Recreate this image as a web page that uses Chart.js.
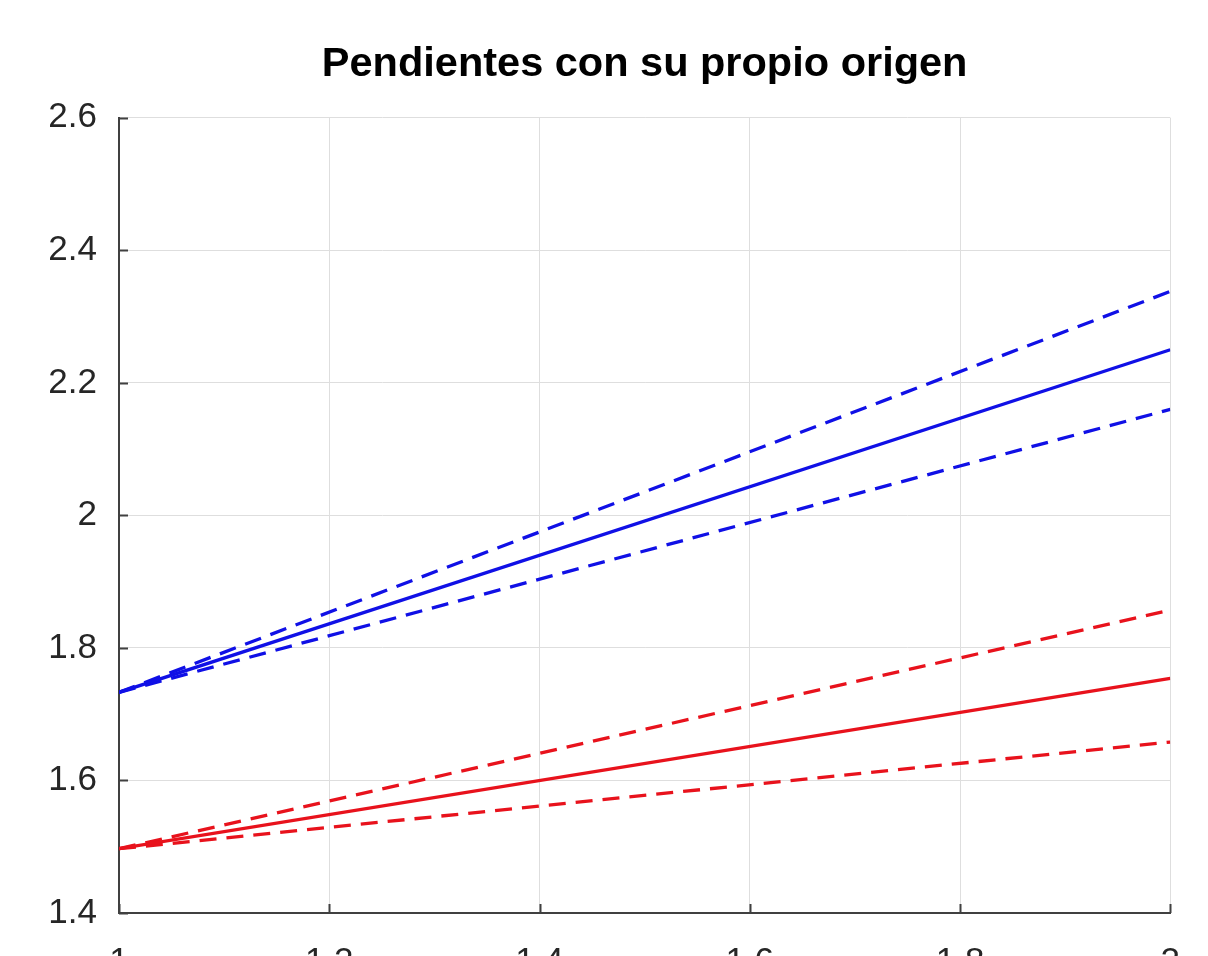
<!DOCTYPE html>
<html>
<head>
<meta charset="utf-8">
<script src="https://cdn.jsdelivr.net/npm/chart.js@4/dist/chart.umd.min.js"></script>
<style>
  html, body { margin: 0; padding: 0; background: #fff; overflow: hidden; }
  canvas { display: block; }
</style>
</head>
<body>
<canvas id="slopeChart" width="1208" height="995"></canvas>
<script>
// values
const xVals = [1, 2];
const blueMid = [1.733, 2.25];
const blueHigh = [1.733, 2.338];
const blueLow = [1.733, 2.16];
const redMid = [1.497, 1.754];
const redHigh = [1.497, 1.857];
const redLow = [1.497, 1.658];

const xTicks = [1, 1.2, 1.4, 1.6, 1.8, 2];
const xTickLabels = ['1', '1.2', '1.4', '1.6', '1.8', '2'];
const yTicks = [1.4, 1.6, 1.8, 2, 2.2, 2.4, 2.6];
const yTickLabels = ['1.4', '1.6', '1.8', '2', '2.2', '2.4', '2.6'];

const BLUE = '#1010e6';
const RED = '#e8121c';

function pts(ys) {
  return xVals.map((x, i) => ({ x: x, y: ys[i] }));
}

function line(ys, color, dashed) {
  return {
    data: pts(ys),
    borderColor: color,
    borderWidth: 3.3,
    borderDash: dashed ? [17, 10] : [],
    pointRadius: 0,
    tension: 0,
    fill: false
  };
}

// small inward tick marks on the left and bottom axes
const innerTicks = {
  id: 'innerTicks',
  afterDraw(chart) {
    const ctx = chart.ctx;
    const xs = chart.scales.x, ys = chart.scales.y;
    const a = chart.chartArea;
    ctx.save();
    ctx.strokeStyle = '#404040';
    ctx.lineWidth = 2;
    ctx.beginPath();
    yTicks.forEach(v => {
      const py = Math.round(ys.getPixelForValue(v)) + 0.5;
      ctx.moveTo(a.left, py);
      ctx.lineTo(a.left + 9, py);
    });
    xTicks.forEach(v => {
      const px = Math.round(xs.getPixelForValue(v)) + 0.5;
      ctx.moveTo(px, a.bottom);
      ctx.lineTo(px, a.bottom - 9);
    });
    ctx.stroke();
    ctx.restore();
  }
};

const ctx = document.getElementById('slopeChart').getContext('2d');
new Chart(ctx, {
  type: 'line',
  data: {
    datasets: [
      line(blueMid, BLUE, false),
      line(blueHigh, BLUE, true),
      line(blueLow, BLUE, true),
      line(redMid, RED, false),
      line(redHigh, RED, true),
      line(redLow, RED, true)
    ]
  },
  options: {
    responsive: false,
    animation: false,
    devicePixelRatio: 1,
    layout: { padding: { left: 0, right: 30, top: 0, bottom: 0 } },
    plugins: {
      legend: { display: false },
      tooltip: { enabled: false },
      title: {
        display: true,
        text: 'Pendientes con su propio origen',
        fullSize: false,
        color: '#000',
        font: { family: 'Liberation Sans', size: 41.5, weight: 'bold' },
        padding: { top: 40, bottom: 28 }
      }
    },
    scales: {
      x: {
        type: 'linear',
        min: 1,
        max: 2,
        afterBuildTicks: s => { s.ticks = xTicks.map(v => ({ value: v })); },
        afterFit: s => { s.height = 82; },
        ticks: {
          color: '#262626',
          padding: 28,
          maxRotation: 0,
          font: { family: 'Liberation Sans', size: 35 },
          callback: (v, i) => xTickLabels[i]
        },
        grid: { color: '#dedede', lineWidth: 1, drawTicks: false },
        border: { display: true, color: '#404040', width: 2 }
      },
      y: {
        min: 1.4,
        max: 2.6,
        afterBuildTicks: s => { s.ticks = yTicks.map(v => ({ value: v })); },
        afterFit: s => { s.width = 119; },
        ticks: {
          color: '#262626',
          padding: 22,
          font: { family: 'Liberation Sans', size: 35 },
          callback: (v, i) => yTickLabels[i]
        },
        grid: { color: '#dedede', lineWidth: 1, drawTicks: false },
        border: { display: true, color: '#404040', width: 2 }
      }
    }
  },
  plugins: [innerTicks]
});
</script>
</body>
</html>
